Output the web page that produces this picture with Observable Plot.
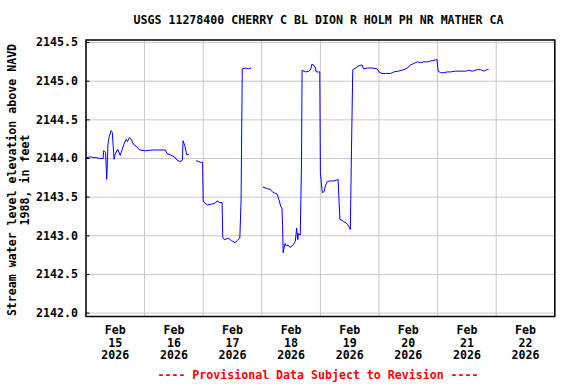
<!DOCTYPE html>
<html><head><meta charset="utf-8">
<script src="https://cdn.jsdelivr.net/npm/d3@7"></script>
<script src="https://cdn.jsdelivr.net/npm/@observablehq/plot@0.6"></script>
<style>
body{margin:0;background:#fff;}
#wrap{position:relative;width:576px;height:384px;font-family:"DejaVu Sans Mono",monospace;font-weight:bold;font-size:11.6px;color:#000;}
.abs{position:absolute;white-space:pre;line-height:13px;}
#chart{position:absolute;left:0;top:0;}
</style></head><body>
<div id="wrap">
<div id="chart"></div>
<div class="abs" style="left:318.5px;top:20px;transform:translate(-50%,-50%)">USGS 11278400 CHERRY C BL DION R HOLM PH NR MATHER CA</div>
<div class="abs" style="left:18.5px;top:180px;text-align:center;transform:translate(-50%,-50%) rotate(-90deg)">Stream water level elevation above NAVD
1988, in feet</div>
<div class="abs" style="left:318px;top:375px;color:#ff0000;transform:translate(-50%,-50%)">---- Provisional Data Subject to Revision ----</div>
</div>
<script>
// Timestamps (UTC-naive) and water level (ft); null = data gap
const times = [
"2026-02-15T00:00","2026-02-15T01:45","2026-02-15T04:00","2026-02-15T06:00","2026-02-15T07:00",
"2026-02-15T07:15","2026-02-15T08:00","2026-02-15T08:30","2026-02-15T09:00","2026-02-15T09:30",
"2026-02-15T10:15","2026-02-15T10:45","2026-02-15T11:30","2026-02-15T12:00","2026-02-15T13:00",
"2026-02-15T14:00","2026-02-15T14:45","2026-02-15T15:30","2026-02-15T16:30","2026-02-15T17:00",
"2026-02-15T17:45","2026-02-15T18:30","2026-02-15T19:30","2026-02-15T20:30","2026-02-15T22:00",
"2026-02-16T00:30","2026-02-16T03:15","2026-02-16T05:45","2026-02-16T08:30","2026-02-16T09:15",
"2026-02-16T10:30","2026-02-16T12:15","2026-02-16T13:15","2026-02-16T14:30","2026-02-16T15:30",
"2026-02-16T15:45","2026-02-16T16:30","2026-02-16T17:15","2026-02-16T18:00",
"2026-02-16T19:30",
"2026-02-16T21:15","2026-02-16T23:00","2026-02-16T23:45","2026-02-17T00:00","2026-02-17T00:45",
"2026-02-17T01:45","2026-02-17T03:30","2026-02-17T04:45","2026-02-17T05:45","2026-02-17T06:45",
"2026-02-17T07:45","2026-02-17T08:00","2026-02-17T08:45","2026-02-17T10:15","2026-02-17T11:30",
"2026-02-17T13:00","2026-02-17T14:00","2026-02-17T15:00","2026-02-17T15:30","2026-02-17T16:00",
"2026-02-17T17:15","2026-02-17T18:30","2026-02-17T19:30",
"2026-02-17T22:00",
"2026-02-18T00:30","2026-02-18T02:15","2026-02-18T03:30","2026-02-18T04:15","2026-02-18T05:30",
"2026-02-18T06:15","2026-02-18T07:00","2026-02-18T07:45","2026-02-18T08:15","2026-02-18T08:30",
"2026-02-18T08:45","2026-02-18T09:30","2026-02-18T10:00","2026-02-18T10:45","2026-02-18T11:30",
"2026-02-18T12:30","2026-02-18T13:00","2026-02-18T13:45","2026-02-18T14:15","2026-02-18T14:45",
"2026-02-18T15:00","2026-02-18T15:45","2026-02-18T16:15","2026-02-18T16:30","2026-02-18T18:00",
"2026-02-18T19:15","2026-02-18T20:00","2026-02-18T20:30","2026-02-18T21:15","2026-02-18T22:00",
"2026-02-18T22:15","2026-02-18T23:15","2026-02-18T23:45","2026-02-19T00:00","2026-02-19T00:45",
"2026-02-19T01:30","2026-02-19T02:00","2026-02-19T02:45","2026-02-19T04:00","2026-02-19T05:15",
"2026-02-19T06:45","2026-02-19T07:15","2026-02-19T07:30","2026-02-19T08:00","2026-02-19T09:00",
"2026-02-19T09:30","2026-02-19T10:30","2026-02-19T11:30","2026-02-19T12:15","2026-02-19T12:45",
"2026-02-19T13:15","2026-02-19T14:30","2026-02-19T15:45","2026-02-19T17:00","2026-02-19T17:45",
"2026-02-19T19:15","2026-02-19T21:15","2026-02-19T23:15","2026-02-20T00:00","2026-02-20T01:15",
"2026-02-20T02:45","2026-02-20T04:45","2026-02-20T06:00","2026-02-20T08:00","2026-02-20T10:15",
"2026-02-20T11:30","2026-02-20T13:00","2026-02-20T14:15","2026-02-20T15:45","2026-02-20T17:00",
"2026-02-20T18:15","2026-02-20T19:45","2026-02-20T21:00","2026-02-20T22:30","2026-02-20T23:45",
"2026-02-21T00:15","2026-02-21T01:15","2026-02-21T02:30","2026-02-21T04:00","2026-02-21T05:15",
"2026-02-21T07:15","2026-02-21T09:30","2026-02-21T11:30","2026-02-21T12:45","2026-02-21T14:15",
"2026-02-21T16:15","2026-02-21T17:30","2026-02-21T19:00","2026-02-21T20:15","2026-02-21T20:45"
];
const levels = [
2144.01,2144.02,2144.01,2144.00,2144.00,
2144.10,2144.08,2143.73,2144.19,2144.28,
2144.36,2144.34,2143.99,2144.06,2144.12,
2144.04,2144.11,2144.18,2144.25,2144.22,
2144.27,2144.25,2144.18,2144.16,2144.11,
2144.10,2144.11,2144.11,2144.11,2144.06,
2144.05,2144.02,2143.98,2143.96,2143.98,
2144.23,2144.16,2144.05,2144.05,
null,
2143.97,2143.95,2143.95,2143.45,2143.42,
2143.40,2143.41,2143.42,2143.45,2143.43,
2143.43,2142.98,2142.95,2142.97,2142.94,
2142.91,2142.94,2142.97,2143.44,2145.16,
2145.17,2145.16,2145.17,
null,
2143.63,2143.61,2143.60,2143.57,2143.55,
2143.54,2143.47,2143.38,2143.36,2143.15,
2142.78,2142.90,2142.87,2142.88,2142.85,
2142.87,2142.89,2142.93,2143.10,2142.95,
2143.03,2143.01,2143.92,2145.14,2145.12,
2145.13,2145.15,2145.22,2145.21,2145.17,
2145.12,2145.12,2145.12,2143.82,2143.56,
2143.57,2143.64,2143.70,2143.71,2143.71,
2143.72,2143.73,2143.54,2143.21,2143.20,
2143.18,2143.17,2143.13,2143.08,2144.14,
2145.15,2145.17,2145.20,2145.21,2145.16,
2145.17,2145.17,2145.16,2145.12,2145.10,
2145.10,2145.10,2145.12,2145.13,2145.15,
2145.17,2145.21,2145.23,2145.25,2145.24,
2145.25,2145.25,2145.26,2145.27,2145.28,
2145.13,2145.11,2145.11,2145.12,2145.12,
2145.13,2145.13,2145.13,2145.14,2145.13,
2145.15,2145.15,2145.13,2145.15,2145.15
];
const days = ["2026-02-15","2026-02-16","2026-02-17","2026-02-18","2026-02-19","2026-02-20","2026-02-21","2026-02-22","2026-02-23"];
const yTicks = [2142.0,2142.5,2143.0,2143.5,2144.0,2144.5,2145.0,2145.5];
const yDomain = [2141.956, 2145.533];

const data = times.map((t, i) => ({t: new Date(t + "Z"), v: levels[i]}));
const gridDays = days.map(d => new Date(d + "T00:00Z"));
const labelDays = days.slice(0, -1).map(d => new Date(d + "T12:00Z"));
const fmt = d3.utcFormat("%b\n%-d\n%Y");

const chart = Plot.plot({
  width: 576, height: 384,
  marginLeft: 85.5, marginRight: 21.7, marginTop: 39.5, marginBottom: 68,
  style: {fontFamily: "'DejaVu Sans Mono', monospace", fontWeight: "bold", fontSize: "11.6px", color: "#000", background: "transparent", overflow: "visible"},
  x: {type: "utc", domain: [gridDays[0], gridDays[gridDays.length - 1]]},
  y: {domain: yDomain},
  marks: [
    Plot.gridX(gridDays, {stroke: "#c8c8c8", strokeOpacity: 1}),
    Plot.gridY(yTicks, {stroke: "#c8c8c8", strokeOpacity: 1}),
    Plot.tickY(yTicks, {y: d => d, stroke: "#000", insetRight: 464.8}),
    Plot.axisX(labelDays, {tickSize: 0, tickPadding: 9, tickFormat: fmt, lineHeight: 1.08, label: null}),
    Plot.axisY(yTicks, {tickSize: 0, tickPadding: 8, tickFormat: d3.format(".1f"), label: null}),
    Plot.line(data, {x: "t", y: "v", stroke: "#0000ff", strokeWidth: 1, curve: "linear"}),
    Plot.frame({stroke: "#000", strokeWidth: 1.5})
  ]
});
document.getElementById("chart").appendChild(chart);
</script>
</body></html>
